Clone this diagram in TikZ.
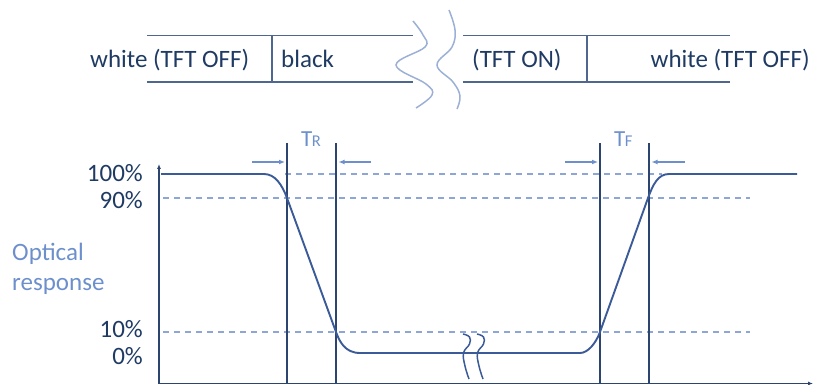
\documentclass[tikz,border=0pt]{standalone}
\usepackage{fontspec}
\setmainfont{Carlito}
\usetikzlibrary{arrows.meta}
\definecolor{navy}{HTML}{1F3B64}
\definecolor{barcol}{HTML}{4F678F}
\definecolor{curvecol}{HTML}{3A5A98}
\definecolor{vertcol}{HTML}{2B4470}
\definecolor{dashcol}{HTML}{8EA6D6}
\definecolor{lightblue}{HTML}{6D90CC}
\definecolor{squigcol}{HTML}{9CB0D6}
\begin{document}
\begin{tikzpicture}[x=1pt,y=-1pt,
  font=\fontsize{25}{30}\selectfont,
  txt/.style={inner sep=0pt,text=navy},
  barline/.style={draw=barcol,line width=1.8pt},
  vline/.style={draw=vertcol,line width=1.6pt},
  dashline/.style={draw=dashcol,line width=1.4pt,dash pattern=on 6pt off 5pt},
  curveline/.style={draw=curvecol,line width=1.9pt},
  squig/.style={draw=squigcol,line width=1.5pt},
  brk/.style={draw=curvecol,line width=1.5pt},
  tarrow/.style={draw=lightblue,line width=1.3pt,-{Latex[length=6pt,width=5pt]}},
  axis/.style={draw=vertcol,line width=1.6pt,-{Latex[length=5pt,width=4pt]}}
]
\useasboundingbox (0,0) rectangle (814,385);

% ---- top bar ----
\coordinate (tl1) at (147,35.5); \coordinate (tl2) at (413,35.5);
\coordinate (bl1) at (147,82);   \coordinate (bl2) at (413,82);
\coordinate (tr1) at (463,35.5); \coordinate (tr2) at (730,35.5);
\coordinate (br1) at (463,82);   \coordinate (br2) at (730,82);
\coordinate (d1t) at (272,35.5); \coordinate (d1b) at (272,82);
\coordinate (d2t) at (587,35.5); \coordinate (d2b) at (587,82);
\draw[barline] (tl1) -- (tl2);
\draw[barline] (bl1) -- (bl2);
\draw[barline] (tr1) -- (tr2);
\draw[barline] (br1) -- (br2);
\draw[barline] (d1t) -- (d1b);
\draw[barline] (d2t) -- (d2b);

\node[txt,anchor=base west] (w1) at (90,68) {white (TFT OFF)};
\node[txt,anchor=base west] (bk) at (281,68) {black};
\node[txt,anchor=base west] (on) at (472,68) {(TFT ON)};
\node[txt,anchor=base east] (w2) at (810,68) {white (TFT OFF)};

% squiggles (top)
\draw[squig] plot[smooth,tension=0.65] coordinates {(413,21) (423,35) (425,47) (396,65) (426,84) (432,95) (416,108)};
\draw[squig] plot[smooth,tension=0.65] coordinates {(449,10) (455,30) (452,47) (437,65) (453,82) (460,96) (457,109)};

% ---- chart ----
\coordinate (org) at (159,383.5);
\coordinate (ytop) at (159,164);
\coordinate (xend) at (813,383.5);

% dashed levels
\draw[dashline] (285,174) -- (662,174);
\draw[dashline] (163,198) -- (750,198);
\draw[dashline] (163,332) -- (750,332);

% vertical lines
\draw[vline] (287,143) -- (287,383.5);
\draw[vline] (336,143) -- (336,383.5);
\draw[vline] (600,143) -- (600,383.5);
\draw[vline] (649,143) -- (649,383.5);

% axes
\draw[axis] (org) -- (ytop);
\draw[axis] (org) -- (xend);

% response curve
\draw[curveline] (161,174) -- (264,174)
  .. controls (275,174) and (282,184.6) .. (287,198)
  -- (336,332)
  .. controls (339.5,341.5) and (345,353) .. (360,353)
  -- (580,353)
  .. controls (588,353) and (596,343) .. (600,332)
  -- (648,198)
  .. controls (653,184.5) and (658,174) .. (669,174)
  -- (797,174);

% break marks
\draw[brk] plot[smooth,tension=0.7] coordinates {(463,334) (469.5,337) (469.5,344) (463.5,353) (465,366) (469,379)};
\draw[brk] plot[smooth,tension=0.7] coordinates {(477,334) (483.5,337) (483.5,344) (477.5,353) (479,366) (483,379)};

% time arrows
\coordinate (ra1) at (252,162); \coordinate (ra2) at (285,162);
\coordinate (rb1) at (371,162); \coordinate (rb2) at (338.5,162);
\coordinate (fa1) at (565,162); \coordinate (fa2) at (598,162);
\coordinate (fb1) at (685,162); \coordinate (fb2) at (651.5,162);
\draw[tarrow] (ra1) -- (ra2);
\draw[tarrow] (rb1) -- (rb2);
\draw[tarrow] (fa1) -- (fa2);
\draw[tarrow] (fb1) -- (fb2);

\node[inner sep=0pt,text=lightblue,anchor=base west] (TR) at (301,147)
  {\fontsize{23}{26}\selectfont T\kern-0.5pt\fontsize{16.5}{20}\selectfont R};
\node[inner sep=0pt,text=lightblue,anchor=base west] (TF) at (614,147)
  {\fontsize{23}{26}\selectfont T\kern-0.5pt\fontsize{16.5}{20}\selectfont F};

% y labels
\node[txt,anchor=base east] (p100) at (143,182) {100\%};
\node[txt,anchor=base east] (p90) at (143,208) {90\%};
\node[txt,anchor=base east] (p10) at (143,337) {10\%};
\node[txt,anchor=base east] (p0) at (143,364) {0\%};

\node[inner sep=0pt,text=lightblue,anchor=base west] (opt) at (12,260) {Optical};
\node[inner sep=0pt,text=lightblue,anchor=base west] (resp) at (12,290) {response};
\end{tikzpicture}
\end{document}
